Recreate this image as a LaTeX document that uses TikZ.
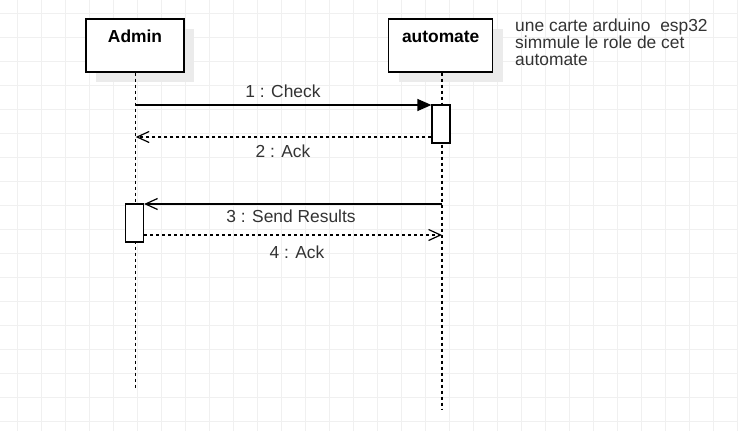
\documentclass[tikz,border=0pt]{standalone}
\usepackage{fontspec}
\setmainfont{Liberation Sans}
\usetikzlibrary{arrows.meta}
\definecolor{gridc}{HTML}{F0F0F0}
\definecolor{shadowc}{HTML}{EBEBEB}
\definecolor{txt}{HTML}{333333}
\begin{document}
\begin{tikzpicture}[x=1pt,y=-1pt,
  every node/.style={font=\fontsize{17.4}{17}\selectfont},
  actorbox/.style={draw=black,line width=1.4pt,fill=white,minimum width=#1,minimum height=53pt,inner sep=0pt},
  shadowbox/.style={fill=shadowc,minimum width=#1,minimum height=53pt,inner sep=0pt},
  actbox/.style={draw=black,line width=1.2pt,fill=white,minimum width=18pt,minimum height=38pt,inner sep=0pt},
  lifeline/.style={draw=black,line width=1.2pt,dash pattern=on 3pt off 3pt},
  syncmsg/.style={draw=black,line width=1.2pt,-{Triangle[length=14pt,width=12pt]}},
  openmsg/.style={draw=black,line width=1.2pt,-{Straight Barb[length=12pt,width=11pt]}},
  retmsg/.style={openmsg,dash pattern=on 3pt off 3pt},
  lbl/.style={text=txt,inner sep=0pt},
  title/.style={font=\fontsize{17.4}{17}\bfseries\selectfont,inner sep=0pt,anchor=base}
]
\useasboundingbox (0,0) rectangle (738,431);
\fill[white] (0,0) rectangle (738,431);
% grid
\foreach \gx in {17.3,41.3,...,738} \draw[gridc,line width=1pt] (\gx,0) -- (\gx,431);
\foreach \gy in {13,37,...,431} \draw[gridc,line width=1pt] (0,\gy) -- (738,\gy);

% shadows
\node[shadowbox=98pt] (admins) at (145,55) {};
\node[shadowbox=104pt] (autos) at (450.7,55) {};

% lifelines
\coordinate (adminend) at (135.7,390);
\coordinate (autoend) at (442,409);
\node[actorbox=98pt] (admin) at (135,45.5) {};
\node[actorbox=104pt] (auto) at (440.7,45.5) {};
\draw[lifeline] (admin.south -| adminend) -- (adminend);
\draw[lifeline] (auto.south -| autoend) -- (autoend);
\node[title] (admint) at (135,42.3) {Admin};
\node[title] (autot) at (440.7,42.3) {automate};

% activations
\node[actbox] (act1) at (441,124) {};
\node[actbox] (act2) at (134.5,223) {};

\coordinate (c1) at (135.7,105);
\coordinate (c2) at (135.7,137);
\coordinate (c3) at (442,204);
\coordinate (c4) at (442,235);

\draw[syncmsg] (c1) -- (c1 -| act1.west);
\draw[retmsg] (c2 -| act1.west) -- (c2);
\draw[openmsg] (c3) -- (c3 -| act2.east);
\draw[retmsg] (c4 -| act2.east) -- (c4);

\node[lbl] (l1) at (283,91) {1 : Check};
\node[lbl] (l2) at (283,151.5) {2 : Ack};
\node[lbl] (l3) at (291,216.5) {3 : Send Results};
\node[lbl] (l4) at (297,252) {4 : Ack};

\node[anchor=north west,align=left,inner sep=0pt,text=txt,font=\fontsize{17.4}{16.8}\selectfont] (note) at (515,19)
  {une carte arduino\ \ esp32\\simmule le role de cet\\automate};
\end{tikzpicture}
\end{document}
